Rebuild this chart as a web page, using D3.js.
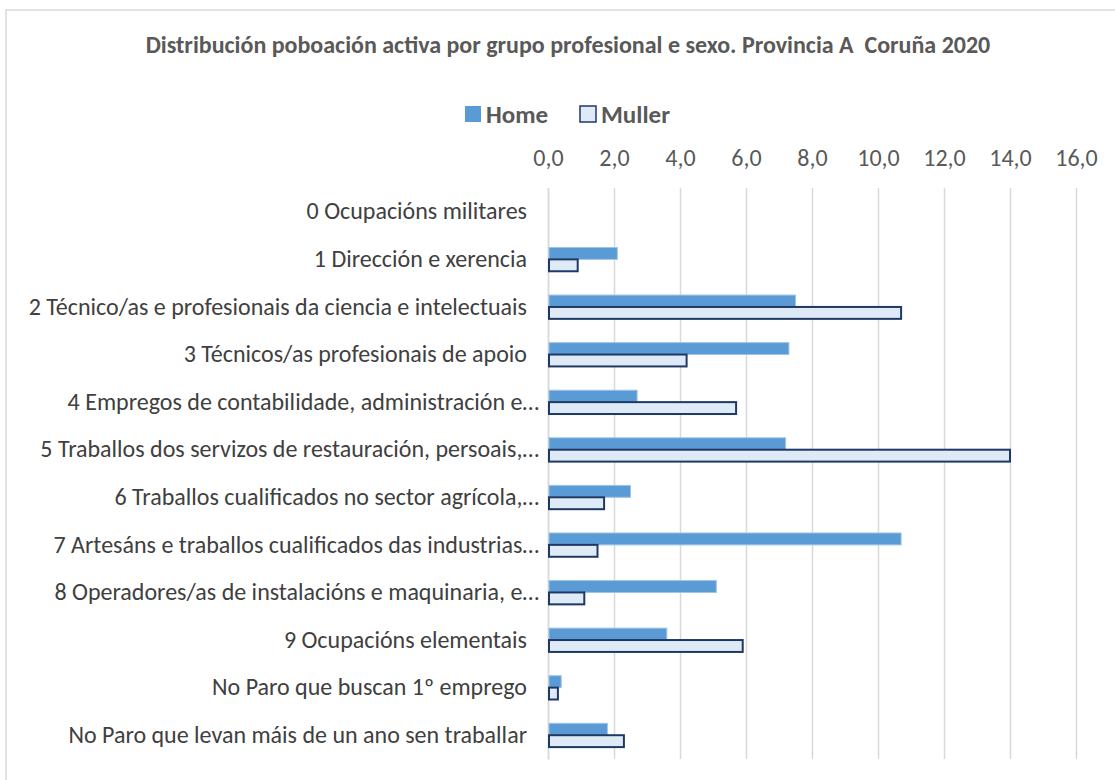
<!DOCTYPE html>
<html>
<head>
<meta charset="utf-8">
<script src="https://cdn.jsdelivr.net/npm/d3@7"></script>
<style>
  body { margin: 0; background: #fff; }
  svg { display: block; font-family: Carlito, Calibri, Lato, "Open Sans", sans-serif; }
  .title { white-space: pre; }
</style>
</head>
<body>
<div id="chart"></div>
<script>
// Horizontal grouped bar chart — active population by professional group and sex.

const W = 1115, H = 780;
const MARGIN = { top: 188, right: 39, bottom: 21, left: 548 };
const INNER_W = W - MARGIN.left - MARGIN.right;
const INNER_H = H - MARGIN.top - MARGIN.bottom;

const TITLE = "Distribución poboación activa por grupo profesional e sexo. Provincia A  Coruña 2020";

const categories = [
  "0 Ocupacións militares",
  "1 Dirección e xerencia",
  "2 Técnico/as e profesionais da ciencia e intelectuais",
  "3 Técnicos/as profesionais de apoio",
  "4 Empregos de contabilidade, administración e…",
  "5 Traballos dos servizos de restauración, persoais,…",
  "6 Traballos cualificados no sector agrícola,…",
  "7 Artesáns e traballos cualificados das industrias…",
  "8 Operadores/as de instalacións e maquinaria, e…",
  "9 Ocupacións elementais",
  "No Paro que buscan 1º emprego",
  "No Paro que levan máis de un ano sen traballar"
];

const home   = [0, 2.1, 7.5, 7.3, 2.7, 7.2, 2.5, 10.7, 5.1, 3.6, 0.4, 1.8];
const muller = [0, 0.9, 10.7, 4.2, 5.7, 14.0, 1.7, 1.5, 1.1, 5.9, 0.3, 2.3];

const seriesNames = ["Home", "Muller"];
const xTicks = [0, 2, 4, 6, 8, 10, 12, 14, 16];

const COLORS = {
  Home:   { fill: "#5B9BD5", stroke: "#9DC3E6", width: 1 },
  Muller: { fill: "#DEEBF7", stroke: "#1F3864", width: 2 }
};

const data = categories.map((c, i) => ({ cat: c, Home: home[i], Muller: muller[i] }));

const svg = d3.select("#chart").append("svg")
  .attr("width", W).attr("height", H);

// Chart border (right/bottom edges fall outside the picture)
svg.append("rect")
  .attr("x", 6).attr("y", 10)
  .attr("width", W + 20).attr("height", H + 20)
  .attr("fill", "#fff")
  .attr("stroke", "#D9D9D9")
  .attr("stroke-width", 1.5);

// Title
svg.append("text")
  .attr("class", "title")
  .attr("x", 568).attr("y", 53)
  .attr("text-anchor", "middle")
  .attr("font-size", 24)
  .attr("font-weight", "bold")
  .attr("fill", "#595959")
  .text(TITLE);

// Legend
const legend = svg.append("g").attr("transform", "translate(465,114)");
let lx = 0;
seriesNames.forEach((name) => {
  const c = COLORS[name];
  const item = legend.append("g").attr("transform", `translate(${lx},0)`);
  item.append("rect")
    .attr("x", 0).attr("y", -8)
    .attr("width", 16).attr("height", 16)
    .attr("fill", c.fill)
    .attr("stroke", name === "Muller" ? c.stroke : "none")
    .attr("stroke-width", 1.5);
  item.append("text")
    .attr("x", 21).attr("y", 9)
    .attr("font-size", 25)
    .attr("font-weight", "bold")
    .attr("fill", "#595959")
    .text(name);
  lx += 115;
});

const g = svg.append("g")
  .attr("transform", `translate(${MARGIN.left},${MARGIN.top})`);

const x = d3.scaleLinear().domain([0, 16]).range([0, INNER_W]);
const y = d3.scaleBand().domain(categories).range([0, INNER_H]).paddingInner(0.5).paddingOuter(0.25);
const ySub = d3.scaleBand().domain(seriesNames).range([0, y.bandwidth()]);

// Gridlines + top axis labels
const xAxis = g.append("g")
  .call(d3.axisTop(x)
    .tickValues(xTicks)
    .tickFormat((v) => d3.format(".1f")(v).replace(".", ","))
    .tickSize(-INNER_H)
    .tickPadding(22));
xAxis.select(".domain").remove();
xAxis.selectAll(".tick line").attr("stroke", "#D9D9D9").attr("stroke-width", 1.5);
xAxis.selectAll(".tick text")
  .attr("font-size", 24)
  .attr("fill", "#595959")
  .attr("font-family", "Carlito, Calibri, Lato, sans-serif");

// Category axis
const yAxis = g.append("g")
  .call(d3.axisLeft(y).tickSize(0).tickPadding(21));
yAxis.select(".domain").attr("stroke", "#D9D9D9").attr("stroke-width", 1.5);
yAxis.selectAll(".tick text")
  .attr("font-size", 24)
  .attr("fill", "#404040")
  .attr("font-family", "Carlito, Calibri, Lato, sans-serif")
  // truncated labels sit a little further right, as in the source
  .attr("x", (d) => d.endsWith("…") ? -9 : -21);

// Bars
const groups = g.selectAll("g.cat")
  .data(data)
  .join("g")
  .attr("class", "cat")
  .attr("transform", (d) => `translate(0,${y(d.cat)})`);

groups.selectAll("rect")
  .data((d) => seriesNames.map((s) => ({ key: s, value: d[s] })).filter((d) => d.value > 0))
  .join("rect")
  .attr("x", 1)
  .attr("y", (d) => ySub(d.key))
  .attr("width", (d) => Math.max(0, x(d.value) - 1))
  .attr("height", ySub.bandwidth())
  .attr("fill", (d) => COLORS[d.key].fill)
  .attr("stroke", (d) => COLORS[d.key].stroke)
  .attr("stroke-width", (d) => COLORS[d.key].width);
</script>
</body>
</html>
